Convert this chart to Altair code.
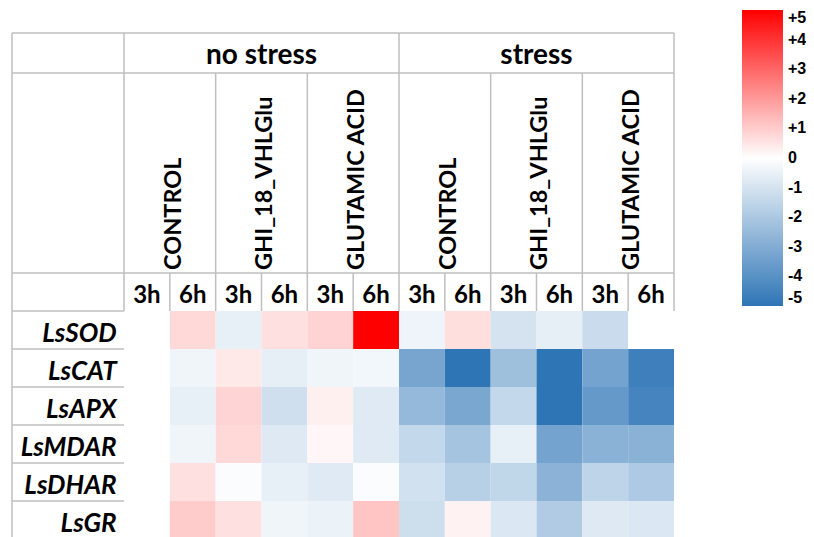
import altair as alt
import pandas as pd

genes = ["LsSOD", "LsCAT", "LsAPX", "LsMDAR", "LsDHAR", "LsGR"]
conditions = ["no stress", "stress"]
treatments = ["CONTROL", "GHI_18_VHLGlu", "GLUTAMIC ACID"]
times = ["3h", "6h"]

# 12 columns: no stress (CONTROL 3h,6h | GHI 3h,6h | GLU 3h,6h), then stress (same order)
sod = [0.0, 0.76, -0.55, 0.6, 0.86, 5.0, -0.4, 0.65, -1.0, -0.6, -1.3, 0.0]
cat = [0.0, -0.35, 0.45, -0.6, -0.35, -0.3, -3.25, -5.0, -2.3, -5.0, -3.35, -4.6]
apx = [0.0, -0.55, 0.85, -1.15, 0.3, -0.75, -2.55, -3.2, -1.4, -5.0, -3.7, -4.45]
mdar = [0.0, -0.35, 0.76, -0.8, 0.15, -0.75, -1.4, -2.15, -0.55, -3.35, -2.8, -2.8]
dhar = [0.0, 0.6, -0.1, -0.55, -0.75, -0.1, -1.1, -1.7, -1.5, -2.75, -1.55, -1.95]
gr = [0.0, 1.0, 0.6, -0.35, -0.45, 1.15, -1.2, 0.25, -0.85, -1.9, -0.8, -0.85]
legend_ticks = [5, 4, 3, 2, 1, 0, -1, -2, -3, -4, -5]

values = [sod, cat, apx, mdar, dhar, gr]

rows = []
for gi, g in enumerate(genes):
    for ci in range(12):
        rows.append({"c": ci, "c2": ci + 1, "r": gi, "r2": gi + 1, "v": values[gi][ci]})
cells = pd.DataFrame(rows)

LEFT = -2.444
TOP = -7.316
H1 = -6.263
H2 = -1.0
BOTTOM = 6.5
lines = [
    (LEFT, 12, TOP, TOP), (LEFT, 12, H1, H1), (LEFT, 12, H2, H2),
    (LEFT, LEFT, TOP, BOTTOM), (0, 0, TOP, 0), (12, 12, TOP, 0), (6, 6, TOP, 0),
]
for k in range(6):
    lines.append((LEFT, 0, k, k))
for xv in [2, 4, 8, 10]:
    lines.append((xv, xv, H1, 0))
for xv in [1, 3, 5, 7, 9, 11]:
    lines.append((xv, xv, H2, 0))
grid = pd.DataFrame(lines, columns=["x", "x2", "y", "y2"])

cond_df = pd.DataFrame({"c": [3, 9], "r": [-6.5, -6.5], "t": conditions})
treat_df = pd.DataFrame({
    "c": [1.24 + 2 * i for i in range(6)],
    "r": [-1.079] * 6,
    "t": treatments * 2,
})
time_df = pd.DataFrame({"c": [i + 0.5 for i in range(12)], "r": [-0.2] * 12, "t": times * 6})
gene_df = pd.DataFrame({"c": [-0.16] * 6, "r": [i + 0.82 for i in range(6)], "t": genes})

xs = alt.Scale(domain=[-2.5309, 14.880], nice=False, zero=False)
ys = alt.Scale(domain=[-7.9737, 5.9474], nice=False, zero=False, reverse=True)

FONT = "Lato"

heat = alt.Chart(cells).mark_rect(strokeWidth=0).encode(
    x=alt.X("c:Q", scale=xs, axis=None),
    x2="c2:Q",
    y=alt.Y("r:Q", scale=ys, axis=None),
    y2="r2:Q",
    color=alt.Color(
        "v:Q",
        scale=alt.Scale(type="linear", domain=[-5, 0, 5],
                        range=["#2e75b6", "#ffffff", "#ff0000"], interpolate="rgb"),
        legend=alt.Legend(
            orient="none", legendX=734, legendY=2, direction="vertical",
            gradientLength=296, gradientThickness=41, values=legend_ticks,
            labelExpr="datum.value > 0 ? '+' + datum.value : '' + datum.value",
            labelFont="Liberation Sans", labelFontSize=16, labelFontWeight="bold",
            labelColor="black", labelOffset=5, title=None, gradientStrokeWidth=0,
            padding=0, labelOverlap=False,
        ),
    ),
)

rules = alt.Chart(grid).mark_rule(color="#bfbfbf", strokeWidth=1.5).encode(
    x=alt.X("x:Q", scale=xs, axis=None), x2="x2:Q",
    y=alt.Y("y:Q", scale=ys, axis=None), y2="y2:Q",
)

cond_text = alt.Chart(cond_df).mark_text(
    font=FONT, fontSize=28, fontWeight="bold", align="center", baseline="alphabetic", color="black"
).encode(x=alt.X("c:Q", scale=xs, axis=None), y=alt.Y("r:Q", scale=ys, axis=None), text="t:N")

treat_text = alt.Chart(treat_df).mark_text(
    font=FONT, fontSize=23.5, fontWeight="bold", align="left", baseline="alphabetic",
    angle=270, color="black"
).encode(x=alt.X("c:Q", scale=xs, axis=None), y=alt.Y("r:Q", scale=ys, axis=None), text="t:N")

time_text = alt.Chart(time_df).mark_text(
    font=FONT, fontSize=24, fontWeight="bold", align="center", baseline="alphabetic", color="black"
).encode(x=alt.X("c:Q", scale=xs, axis=None), y=alt.Y("r:Q", scale=ys, axis=None), text="t:N")

gene_text = alt.Chart(gene_df).mark_text(
    font=FONT, fontSize=26, fontWeight="bold", fontStyle="italic", align="right",
    baseline="alphabetic", color="black"
).encode(x=alt.X("c:Q", scale=xs, axis=None), y=alt.Y("r:Q", scale=ys, axis=None), text="t:N")

chart = alt.layer(heat, rules, cond_text, treat_text, time_text, gene_text).properties(
    width=798, height=529, padding=0, autosize=alt.AutoSizeParams(type="none")
).configure_view(stroke=None)

chart.save("out.html", embed_options={"renderer": "svg", "actions": False})
